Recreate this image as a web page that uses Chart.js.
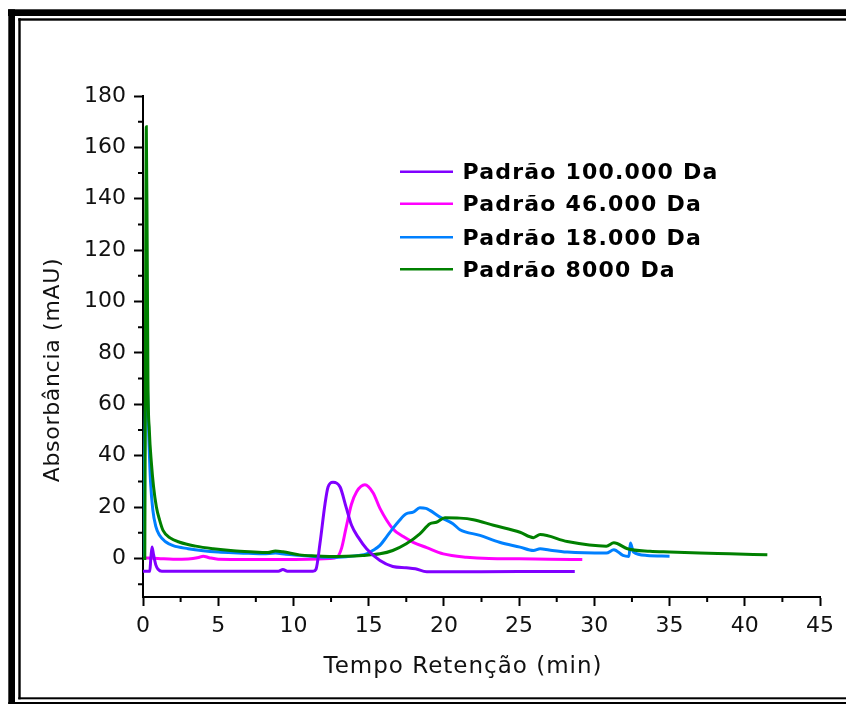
<!DOCTYPE html>
<html>
<head>
<meta charset="utf-8">
<script src="https://cdn.jsdelivr.net/npm/chart.js@4.4.0/dist/chart.umd.min.js"></script>
<style>
  html, body { margin: 0; padding: 0; background: #fff; }
  #wrap { width: 846px; height: 704px; }
</style>
</head>
<body>
<div id="wrap"><canvas id="chart" width="846" height="704"></canvas></div>
<script>
// axis ticks
const xTicks = [0, 5, 10, 15, 20, 25, 30, 35, 40, 45];
const yTicks = [0, 20, 40, 60, 80, 100, 120, 140, 160, 180];

const seriesNames = ['Padrão 100.000 Da', 'Padrão 46.000 Da', 'Padrão 18.000 Da', 'Padrão 8000 Da'];
const seriesColors = ['#8000ff', '#ff00ff', '#0080ff', '#008000'];

// Padrão 100.000 Da
const p100X = [0, 0.45, 0.52, 0.6, 0.7, 0.85, 1.0, 1.25, 2, 5, 9.0, 9.3, 9.6, 11.3, 11.5, 11.76, 12.1, 12.3, 12.63, 13.1, 13.5, 13.87, 14.3, 14.86, 15.75, 16.6, 17.5, 18.1, 18.86, 20, 25, 28.7];
const p100Y = [-5, -5, 0, 4.5, 1.5, -2.5, -4.2, -5, -5, -5, -5, -4.3, -5, -5, -4.2, 5.7, 21.3, 27.8, 29.7, 27.8, 20, 12.8, 8.3, 3.8, -0.8, -3.1, -3.6, -4, -5.2, -5.2, -5.1, -5.1];

// Padrão 46.000 Da
const p46X = [0, 1, 2, 3, 3.7, 4.0, 4.4, 5, 7, 9, 11, 12.4, 12.9, 13.2, 13.5, 13.85, 14.2, 14.75, 15.3, 15.75, 16.6, 17.3, 17.96, 18.86, 19.96, 21.5, 23, 25, 27, 29.2];
const p46Y = [0.2, 0, -0.3, -0.2, 0.4, 0.9, 0.3, -0.3, -0.4, -0.4, -0.3, 0, 0.5, 4, 12, 21, 26, 28.7, 25.5, 19.5, 11.6, 8.5, 6.3, 4.2, 1.8, 0.5, 0, -0.1, -0.3, -0.4];

// Padrão 18.000 Da
const p18X = [0, 0.12, 0.22, 0.3, 0.4, 0.5, 0.65, 0.85, 1.1, 1.5, 2, 3, 4, 5, 6, 7, 8, 8.8, 9.5, 10.4, 11.5, 12.4, 13.5, 14.3, 14.86, 15.3, 15.75, 16.2, 16.6, 17.0, 17.5, 17.96, 18.4, 18.8, 19.07, 19.74, 20.6, 21.07, 22.4, 23.7, 25.06, 25.95, 26.4, 27, 28.2, 30.8, 31.3, 31.9, 32.3, 32.4, 32.6, 33.5, 35];
const p18Y = [0, 45, 72, 65, 45, 30, 19, 12.5, 9, 6.5, 5, 3.8, 3, 2.5, 2.2, 2, 1.8, 2.1, 1.6, 1.2, 0.7, 0.5, 0.7, 1.2, 1.8, 3.2, 5.1, 8.5, 11.6, 14.5, 17.4, 18, 19.7, 19.5, 18.7, 16.1, 13.5, 11.2, 9, 6.3, 4.4, 3.1, 3.8, 3.3, 2.5, 2.1, 3.4, 1.2, 0.8, 6, 2.5, 1.2, 0.9];

// Padrão 8000 Da
const p8X = [0, 0.12, 0.18, 0.22, 0.28, 0.33, 0.42, 0.56, 0.7, 0.89, 1.1, 1.33, 1.8, 2.44, 3.5, 4.66, 6, 7.1, 8.3, 8.8, 9.3, 10.4, 11.5, 12.4, 13.5, 14.6, 15.75, 16.6, 17.5, 18.4, 19.07, 19.5, 20.07, 21.07, 21.96, 23.3, 25.06, 25.95, 26.4, 28.2, 30.8, 31.3, 32.2, 33.7, 35, 37, 39, 41.5];
const p8Y = [0, 0, 120, 168, 120, 69, 50, 37, 28, 20, 15, 10.9, 8, 6.3, 4.8, 3.8, 3, 2.6, 2.3, 2.9, 2.6, 1.4, 1.0, 0.8, 0.9, 1.2, 1.8, 3.1, 5.7, 9.6, 13.5, 14.1, 15.8, 15.7, 15.1, 12.9, 10.2, 8.1, 9.3, 6.6, 4.8, 6.1, 3.8, 2.8, 2.5, 2.1, 1.8, 1.4];

function toPoints(xs, ys) {
  return xs.map((x, i) => ({ x: x, y: ys[i] }));
}

const seriesData = [toPoints(p100X, p100Y), toPoints(p46X, p46Y), toPoints(p18X, p18Y), toPoints(p8X, p8Y)];
const drawOrder = [1, 4, 3, 2];

const datasets = seriesData.map((pts, i) => ({
  label: seriesNames[i],
  data: pts,
  borderColor: seriesColors[i],
  backgroundColor: seriesColors[i],
  borderWidth: 3,
  pointRadius: 0,
  cubicInterpolationMode: 'monotone',
  order: drawOrder[i]
}));

// frame, minor ticks, axis titles and legend drawn on top of the chart
const decorations = {
  id: 'decorations',
  beforeDraw(chart) {
    const ctx = chart.ctx;
    ctx.save();
    ctx.fillStyle = '#fff';
    ctx.fillRect(0, 0, chart.width, chart.height);
    ctx.restore();
  },
  afterDraw(chart) {
    const ctx = chart.ctx;
    const xs = chart.scales.x;
    const ys = chart.scales.y;
    ctx.save();

    // minor ticks
    ctx.strokeStyle = '#000';
    ctx.lineWidth = 2;
    ctx.beginPath();
    for (let v = 2.5; v < 45; v += 5) {
      const px = xs.getPixelForValue(v);
      ctx.moveTo(px, xs.top);
      ctx.lineTo(px, xs.top + 5);
    }
    for (let v = -10; v < 180; v += 20) {
      const py = ys.getPixelForValue(v);
      ctx.moveTo(ys.right, py);
      ctx.lineTo(ys.right - 5, py);
    }
    ctx.stroke();

    // axis titles
    ctx.fillStyle = '#111';
    ctx.font = '23px "DejaVu Sans"';
    ctx.letterSpacing = '1px';
    ctx.textAlign = 'center';
    ctx.textBaseline = 'alphabetic';
    ctx.fillText('Tempo Retenção (min)', 463, 673);
    ctx.save();
    ctx.translate(58.5, 370);
    ctx.rotate(-Math.PI / 2);
    ctx.font = '22px "DejaVu Sans"';
    ctx.letterSpacing = '0.7px';
    ctx.fillText('Absorbância (mAU)', 0, 0);
    ctx.restore();

    // legend
    const rowY = [171.7, 203.7, 237.3, 269.3];
    ctx.font = 'bold 22px "DejaVu Sans"';
    ctx.letterSpacing = '1.2px';
    ctx.textAlign = 'left';
    chart.data.datasets.forEach((ds, i) => {
      ctx.strokeStyle = ds.borderColor;
      ctx.lineWidth = 2.6;
      ctx.beginPath();
      ctx.moveTo(400, rowY[i]);
      ctx.lineTo(453, rowY[i]);
      ctx.stroke();
      ctx.fillStyle = '#000';
      ctx.fillText(ds.label, 462.5, rowY[i] + 7.5);
    });
    ctx.letterSpacing = '0px';

    // double frame
    ctx.fillStyle = '#000';
    ctx.fillRect(8, 9.3, 846, 6.7);
    ctx.fillRect(8.3, 9.3, 6.7, 704);
    ctx.fillRect(18.3, 18.3, 846, 2.4);
    ctx.fillRect(18.3, 18.3, 2.4, 681);
    ctx.fillRect(18.3, 697.3, 846, 2);
    ctx.fillRect(8.3, 702, 846, 2);

    ctx.restore();
  }
};

const ctx = document.getElementById('chart').getContext('2d');
new Chart(ctx, {
  type: 'line',
  data: { datasets: datasets },
  options: {
    responsive: false,
    animation: false,
    events: [],
    layout: { padding: { left: 0, right: 26, top: 96, bottom: 0 } },
    plugins: {
      legend: { display: false },
      tooltip: { enabled: false }
    },
    scales: {
      x: {
        type: 'linear',
        min: 0,
        max: 45,
        afterFit(scale) { scale.height = 107; },
        afterBuildTicks(scale) {
          scale.ticks = xTicks.map(v => ({ value: v }));
        },
        ticks: {
          stepSize: 5,
          padding: 7,
          color: '#111',
          font: { family: '"DejaVu Sans"', size: 22 },
          maxRotation: 0
        },
        grid: { drawOnChartArea: false, tickLength: 9, tickWidth: 2, tickColor: '#000' },
        border: { display: true, color: '#000', width: 2 }
      },
      y: {
        type: 'linear',
        min: -15,
        max: 180,
        afterFit(scale) { scale.width = 143; },
        afterBuildTicks(scale) {
          scale.ticks = yTicks.map(v => ({ value: v }));
        },
        ticks: {
          stepSize: 20,
          padding: 8,
          color: '#111',
          font: { family: '"DejaVu Sans"', size: 22 }
        },
        grid: { drawOnChartArea: false, tickLength: 9, tickWidth: 2, tickColor: '#000' },
        border: { display: true, color: '#000', width: 2 }
      }
    }
  },
  plugins: [decorations]
});
</script>
</body>
</html>
